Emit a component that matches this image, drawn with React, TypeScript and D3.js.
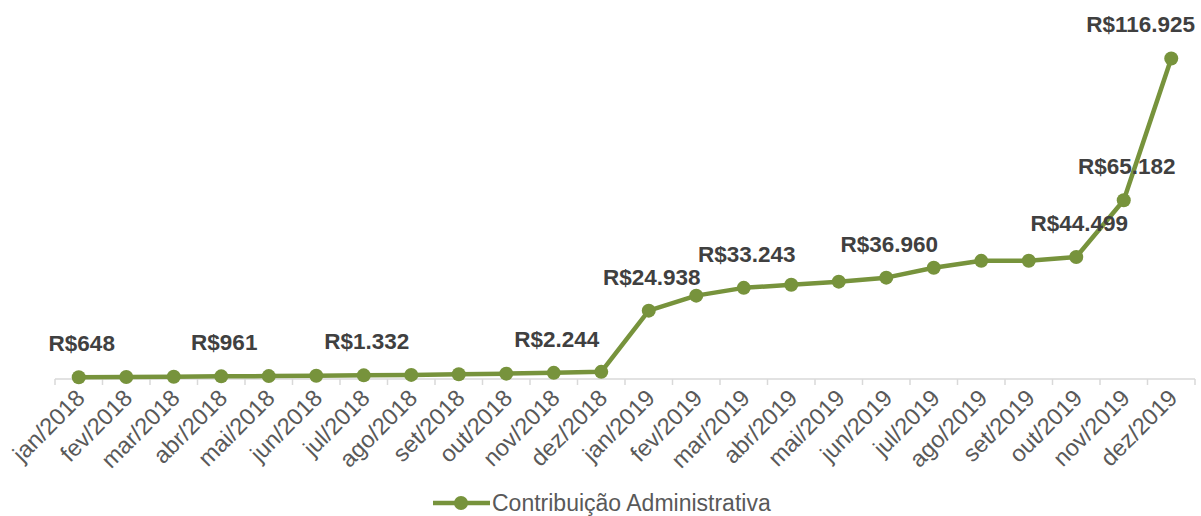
import React from 'react';
import * as d3 from 'd3';

const months = [
  'jan/2018', 'fev/2018', 'mar/2018', 'abr/2018', 'mai/2018', 'jun/2018',
  'jul/2018', 'ago/2018', 'set/2018', 'out/2018', 'nov/2018', 'dez/2018',
  'jan/2019', 'fev/2019', 'mar/2019', 'abr/2019', 'mai/2019', 'jun/2019',
  'jul/2019', 'ago/2019', 'set/2019', 'out/2019', 'nov/2019', 'dez/2019',
];
const values = [
  648, 720, 820, 961, 1050, 1160, 1332, 1500, 1720, 1950, 2244, 2600,
  24938, 30400, 33243, 34400, 35500, 36960, 40600, 43100, 43150, 44499, 65182, 116925,
];
// which points carry a data label
const labeled = [0, 3, 6, 10, 12, 14, 17, 21, 22, 23];

const seriesName = 'Contribuição Administrativa';
const green = '#77933C';

const fmt = (v: number) => 'R$' + d3.format(',')(v).replace(/,/g, '.');

export default function App() {
  const width = 1201;
  const height = 516;
  const x = d3.scaleBand<string>().domain(months).range([55, 1195]);
  const y = d3.scaleLinear().domain([0, 120000]).range([379, 50]);
  const cx = (m: string) => (x(m) as number) + x.bandwidth() / 2;

  const line = d3.line<number>()
    .x((d, i) => cx(months[i]))
    .y(d => y(d));

  const ticks = d3.range(months.length + 1).map(i => 55 + i * x.step());

  return (
    <svg width={width} height={height} style={{ position: 'absolute', left: 0, top: 0 }}
      fontFamily="'Liberation Sans', Arial, sans-serif">
      <line x1={55} x2={1195} y1={379} y2={379} stroke="#d9d9d9" strokeWidth={1.5} />
      {ticks.map((t, i) => (
        <line key={i} x1={t} x2={t} y1={379} y2={385} stroke="#d9d9d9" strokeWidth={1.5} />
      ))}
      {months.map(m => (
        <text key={m} transform={`translate(${cx(m) + 3},395) rotate(-45)`}
          textAnchor="end" dominantBaseline="middle" fontSize={23.5} fill="#595959">{m}</text>
      ))}
      <path d={line(values) || ''} fill="none" stroke={green} strokeWidth={4.5} strokeLinejoin="round" />
      {values.map((v, i) => (
        <circle key={i} cx={cx(months[i])} cy={y(v)} r={7} fill={green} />
      ))}
      {labeled.map(i => {
        const px = cx(months[i]);
        const txt = fmt(values[i]);
        const w = txt.length * 12.3;
        const over = px + w / 2 > 1197;
        return (
          <text key={i} x={over ? 1195 : px + 3} y={y(values[i]) - 32}
            textAnchor={over ? 'end' : 'middle'} dominantBaseline="middle"
            fontSize={22.5} fontWeight="bold" fill="#404040">{txt}</text>
        );
      })}
      <g transform="translate(433,503)">
        <line x1={0} x2={57} y1={0} y2={0} stroke={green} strokeWidth={4.5} />
        <circle cx={28} cy={0} r={7} fill={green} />
        <text x={59} y={2} dominantBaseline="middle" fontSize={23} fill="#595959">{seriesName}</text>
      </g>
    </svg>
  );
}
